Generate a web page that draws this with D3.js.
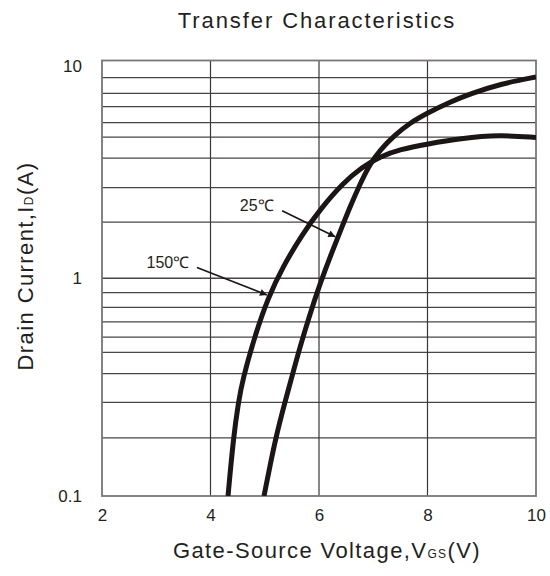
<!doctype html>
<html>
<head>
<script src="https://d3js.org/d3.v7.min.js"></script>
<style>
  body { margin: 0; background: #fff; }
  text { font-family: "Liberation Sans", Arial, sans-serif; fill: #231f20; }
</style>
</head>
<body>
<svg id="chart" width="550" height="576"></svg>
<script>
// axis ticks
var xTicks = [2, 4, 6, 8, 10];
var yTicks = [0.1, 1, 10];
var yTickLabels = ['0.1', '1', '10'];
// horizontal grid lines (not exact log positions)
var gridY = [0.185, 0.269, 0.365, 0.457, 0.536, 0.631, 0.735, 0.859, 1,
             1.81, 2.61, 3.56, 4.45, 5.18, 6.14, 7.07, 8.34];
var gridX = [4, 6, 8];

// curves: Vgs (V) vs Id (A)
var vgs25  = [4.986, 5.097, 5.207, 5.373, 5.484, 5.65, 5.834, 6.018, 6.203, 6.387, 6.571, 6.756, 6.94, 7.124, 7.401, 7.677, 8.0, 8.415, 8.783, 9.336, 10];
var id25   = [0.1, 0.1375, 0.187, 0.27, 0.341, 0.484, 0.686, 0.942, 1.252, 1.632, 2.125, 2.71, 3.348, 3.882, 4.55, 5.166, 5.741, 6.449, 7.019, 7.8, 8.4];
var vgs150 = [4.323, 4.424, 4.516, 4.59, 4.82, 5.06, 5.336, 5.705, 6.018, 6.442, 6.793, 7.124, 7.493, 8.0, 8.599, 9.336, 10];
var id150  = [0.1, 0.187, 0.27, 0.341, 0.546, 0.813, 1.134, 1.608, 2.067, 2.736, 3.243, 3.617, 3.908, 4.137, 4.385, 4.56, 4.431];

// annotations (label position, arrow start, arrow tip) in data units
var notes = [
  { text: '25℃',  lx: 4.54, ly: 2.04,  x1: 5.32, y1: 2.04, x2: 6.30, y2: 1.55 },
  { text: '150℃', lx: 2.82, ly: 1.115, x1: 3.75, y1: 1.12, x2: 5.04, y2: 0.838 }
];

var svg = d3.select('#chart');
var pLeft = 102, pRight = 536, pTop = 60.5, pBottom = 496;

var x = d3.scaleLinear().domain([2, 10]).range([pLeft, pRight]);
var y = d3.scaleLog().domain([0.1, 10]).range([pBottom, pTop]);

svg.append('defs').append('clipPath').attr('id', 'clip')
  .append('rect')
  .attr('x', pLeft).attr('y', pTop)
  .attr('width', pRight - pLeft).attr('height', pBottom - pTop);

// grid
svg.append('g').selectAll('line.gy')
  .data(gridY).enter().append('line')
  .attr('x1', pLeft).attr('x2', pRight)
  .attr('y1', d => y(d)).attr('y2', d => y(d))
  .style('stroke', '#4a4546').style('stroke-width', 1.3);

svg.append('g').selectAll('line.gx')
  .data(gridX).enter().append('line')
  .attr('x1', d => x(d)).attr('x2', d => x(d))
  .attr('y1', pTop).attr('y2', pBottom)
  .style('stroke', '#3a3536').style('stroke-width', 1.2);

svg.append('rect')
  .attr('x', pLeft).attr('y', pTop)
  .attr('width', pRight - pLeft).attr('height', pBottom - pTop)
  .style('fill', 'none').style('stroke', '#7a7576').style('stroke-width', 1.8);

// axes (labels only)
var xAxis = d3.axisBottom(x).tickValues(xTicks).tickSize(0).tickPadding(13);
var gx = svg.append('g').attr('transform', 'translate(0,' + pBottom + ')').call(xAxis);
gx.select('.domain').remove();
gx.selectAll('text').style('font-size', '17px').style('font-family', '"Liberation Sans", Arial, sans-serif').attr('fill', '#231f20');

var yAxis = d3.axisLeft(y).tickValues(yTicks).tickFormat((d, i) => yTickLabels[i]).tickSize(0).tickPadding(20);
var gy = svg.append('g').attr('transform', 'translate(' + pLeft + ',0)').call(yAxis);
gy.select('.domain').remove();
gy.selectAll('text').style('font-size', '17px').style('font-family', '"Liberation Sans", Arial, sans-serif').attr('fill', '#231f20')
  .attr('dy', (d, i) => i === 2 ? '0.62em' : '0.32em');

// curves
var line = d3.line()
  .x(d => x(d[0]))
  .y(d => y(d[1]))
  .curve(d3.curveBasis);

var series = [d3.zip(vgs25, id25), d3.zip(vgs150, id150)];
svg.append('g').attr('clip-path', 'url(#clip)')
  .selectAll('path.curve')
  .data(series).enter().append('path')
  .attr('d', line)
  .style('fill', 'none')
  .style('stroke', '#1c1516')
  .style('stroke-width', 5)
  .style('stroke-linecap', 'butt');

// annotations
svg.append('defs').append('marker')
  .attr('id', 'arrow')
  .attr('viewBox', '0 0 10 10')
  .attr('refX', 10).attr('refY', 5)
  .attr('markerWidth', 11).attr('markerHeight', 7)
  .attr('markerUnits', 'userSpaceOnUse')
  .attr('orient', 'auto')
  .append('path').attr('d', 'M0,0L10,5L0,10Z').style('fill', '#1c1516');

var ann = svg.append('g').selectAll('g.note').data(notes).enter().append('g');
ann.append('text')
  .attr('x', d => x(d.lx)).attr('y', d => y(d.ly))
  .style('font-size', '16px')
  .text(d => d.text);
ann.append('line')
  .attr('x1', d => x(d.x1)).attr('y1', d => y(d.y1))
  .attr('x2', d => x(d.x2)).attr('y2', d => y(d.y2))
  .style('stroke', '#1c1516').style('stroke-width', 1.6)
  .attr('marker-end', 'url(#arrow)');

// titles
svg.append('text')
  .attr('x', 317).attr('y', 28)
  .attr('text-anchor', 'middle')
  .style('font-size', '22px')
  .style('letter-spacing', '1.9px')
  .text('Transfer Characteristics');

var xl = svg.append('text')
  .attr('x', 327).attr('y', 558)
  .attr('text-anchor', 'middle')
  .style('font-size', '22px')
  .style('letter-spacing', '1.4px');
xl.append('tspan').text('Gate-Source Voltage,V');
xl.append('tspan').style('font-size', '12px').text('GS');
xl.append('tspan').text('(V)');

var yl = svg.append('text')
  .attr('transform', 'translate(33,266) rotate(-90)')
  .attr('text-anchor', 'middle')
  .style('font-size', '22px')
  .style('letter-spacing', '1.4px');
yl.append('tspan').text('Drain Current,I');
yl.append('tspan').style('font-size', '12px').text('D');
yl.append('tspan').text('(A)');
</script>
</body>
</html>
